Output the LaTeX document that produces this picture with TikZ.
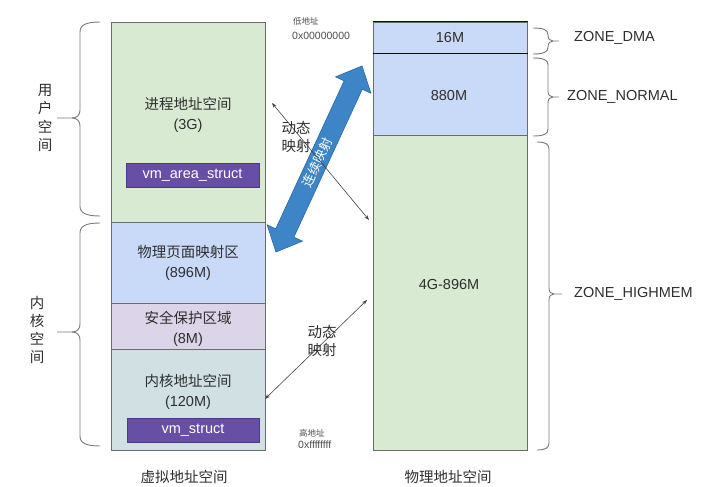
\documentclass[tikz,border=0pt]{standalone}
\usepackage{fontspec}
\setmainfont{Liberation Sans}
\newfontfamily\cjk{Noto Sans CJK SC}
\usetikzlibrary{arrows.meta}
\definecolor{cgreen}{HTML}{D9EAD3}
\definecolor{cblue}{HTML}{C9DAF8}
\definecolor{clav}{HTML}{DCD4E8}
\definecolor{ccyan}{HTML}{D0E0E3}
\definecolor{vmc}{HTML}{674EA7}
\definecolor{vmb}{HTML}{4B3A86}
\definecolor{bordc}{HTML}{6B6B6B}
\definecolor{txt}{HTML}{2E2E2E}
\definecolor{arrb}{HTML}{3D85C6}
\definecolor{arrbd}{HTML}{2A69A6}
\definecolor{brc}{HTML}{7A7A7A}
\newcommand{\BrR}[6]{%
\draw[brace] (#1,#4) .. controls ({#2-4},#4) and (#2,{#4+2}) .. (#2,{#4+7}) -- (#2,{#5-6}) .. controls (#2,{#5-2}) and ({#2+2},#5) .. ({#2+5},#5) -- (#3,#5);
\draw[brace] ({#2+5},#5) .. controls ({#2+2},#5) and (#2,{#5+2}) .. (#2,{#5+6}) -- (#2,{#6-7}) .. controls (#2,{#6-2}) and ({#2-4},#6) .. (#1,#6);}
\newcommand{\BrL}[6]{%
\draw[brace] (#1,#4) .. controls ({#2+6},#4) and (#2,{#4+3}) .. (#2,{#4+10}) -- (#2,{#5-8}) .. controls (#2,{#5-3}) and ({#2-3},#5) .. ({#2-8},#5) -- (#3,#5);
\draw[brace] ({#2-8},#5) .. controls ({#2-3},#5) and (#2,{#5+3}) .. (#2,{#5+8}) -- (#2,{#6-10}) .. controls (#2,{#6-3}) and ({#2+6},#6) .. (#1,#6);}
\tikzset{
  sect/.style={draw=bordc, line width=0.8pt, anchor=north west, inner sep=0pt, minimum width=154pt},
  lbl/.style={font=\fontsize{14.5}{20}\selectfont, text=txt, align=center, inner sep=0pt},
  small/.style={font=\fontsize{8.5}{10}\selectfont, text=txt!85, anchor=west, inner sep=0pt},
  hex/.style={font=\fontsize{10.5}{12}\selectfont, text=txt!85, anchor=west, inner sep=0pt},
  vm/.style={fill=vmc, draw=vmb, line width=0.6pt, text=white, font=\fontsize{14.5}{18}\selectfont, inner sep=0pt, minimum height=24pt},
  brace/.style={draw=brc, line width=0.9pt},
  zone/.style={font=\fontsize{14.5}{18}\selectfont, text=txt, anchor=west, inner sep=0pt},
  thinarr/.style={draw=txt!90, line width=0.6pt, {Stealth[length=5pt,width=3.5pt]}-{Stealth[length=5pt,width=3.5pt]}},
}
\begin{document}
\begin{tikzpicture}[x=1pt,y=-1pt]
\useasboundingbox (0,0) rectangle (720,487);
\fill[white] (0,0) rectangle (720,487);
% virtual address space
\node[sect, fill=cgreen, minimum height=200pt] (user) at (111,22) {};
\node[sect, fill=cblue, minimum height=81pt] (pmap) at (111,222) {};
\node[sect, fill=clav, minimum height=46pt] (guard) at (111,303) {};
\node[sect, fill=ccyan, minimum height=101pt] (kern) at (111,349) {};
\node[lbl] (userT) at (188,115) {{\cjk 进程地址空间}\\(3G)};
\node[vm, minimum width=133pt] (vma) at (192.5,175) {vm\_area\_struct};
\node[lbl] (pmapT) at (188,263) {{\cjk 物理页面映射区}\\(896M)};
\node[lbl] (guardT) at (188,328.5) {{\cjk 安全保护区域}\\(8M)};
\node[lbl] (kernT) at (188,392) {{\cjk 内核地址空间}\\(120M)};
\node[vm, minimum width=132pt] (vms) at (193,430) {vm\_struct};
\node[lbl] (vT) at (184,477) {\cjk 虚拟地址空间};
% physical address space
\node[sect, fill=cblue, minimum height=31pt] (dma) at (373,22) {};
\node[sect, fill=cblue, minimum height=82pt] (normal) at (373,53) {};
\node[sect, fill=cgreen, minimum height=315pt] (high) at (373,135) {};
\draw[draw=black!70!blue, line width=1.1pt] (dma.south west) -- (dma.south east);
\draw[draw=black!55!blue, line width=1pt] (dma.north west) -- (dma.north east);
\node[lbl] (dmaT) at (450,38) {16M};
\node[lbl] (normalT) at (449,96) {880M};
\node[lbl] (highT) at (449,285) {4G-896M};
\node[lbl] (pT) at (448,477) {\cjk 物理地址空间};
% left braces
\BrL{100}{80}{57}{22}{118}{216}
\BrL{100}{80}{57}{223}{332}{446}
\node[lbl, font=\fontsize{14.5}{18.5}\selectfont\cjk] (userL) at (45,118) {用\\户\\空\\间};
\node[lbl, font=\fontsize{14.5}{18}\selectfont\cjk] (kernL) at (37,330) {内\\核\\空\\间};
% right braces
\BrR{533}{548}{559}{28}{41}{54}
\BrR{533}{548}{559}{58}{97}{136}
\BrR{537}{549}{562}{142}{294}{450}
\node[zone] (zdma) at (574,38) {ZONE\_DMA};
\node[zone] (znormal) at (567,97) {ZONE\_NORMAL};
\node[zone] (zhigh) at (574,294) {ZONE\_HIGHMEM};
% address labels
\node[small] (lowC) at (293,21) {\cjk 低地址};
\node[hex] (lowH) at (292,36) {0x00000000};
\node[small] (highC) at (299,433) {\cjk 高地址};
\node[hex] (highH) at (298,445) {0xffffffff};
% big double arrow
\begin{scope}[shift={(319,159)}, rotate=65.18]
\fill[arrb, draw=arrbd, line width=0.6pt, line join=miter]
  (102.5,0) -- (81.5,19.5) -- (81.5,10) -- (-81.5,10) -- (-81.5,19.5) -- (-102.5,0)
  -- (-81.5,-19.5) -- (-81.5,-10) -- (81.5,-10) -- (81.5,-19.5) -- cycle;
\node[rotate=65.18, text=white, font=\fontsize{13}{15}\selectfont\cjk, inner sep=0pt] (cont) at (-4,0) {连续映射};
\end{scope}
% thin arrows
\coordinate (a1s) at (272,103);
\coordinate (a1e) at (369,220);
\draw[thinarr] (a1s) -- (a1e);
\coordinate (a2s) at (265,399);
\coordinate (a2e) at (367,300);
\draw[thinarr] (a2s) -- (a2e);
\node[lbl, font=\fontsize{14.5}{18}\selectfont\cjk] (dyn1) at (296,137) {动态\\映射};
\node[lbl, font=\fontsize{14.5}{18}\selectfont\cjk] (dyn2) at (322,341) {动态\\映射};
\end{tikzpicture}
\end{document}
